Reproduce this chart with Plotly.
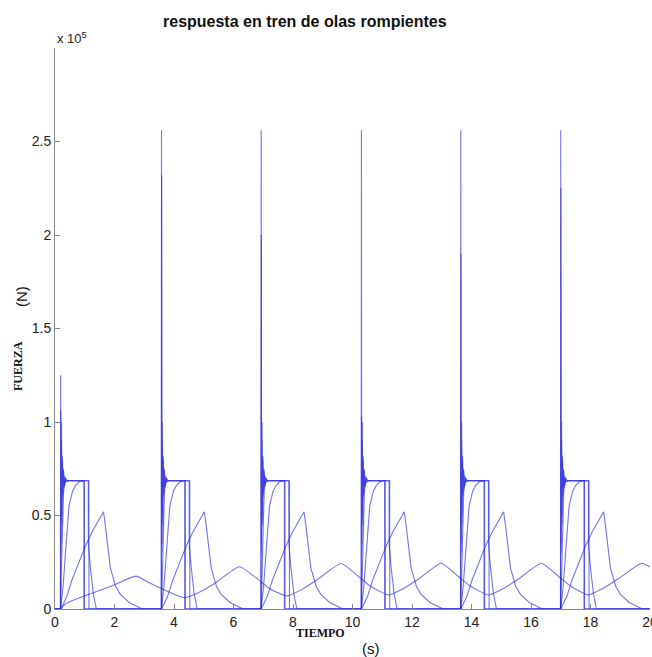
import plotly.graph_objects as go

# ---------------- data ----------------
time_ticks = [0, 2, 4, 6, 8, 10, 12, 14, 16, 18, 20]
force_ticks = [0, 0.5e5, 1.0e5, 1.5e5, 2.0e5, 2.5e5]
force_tick_text = ["0", "0.5", "1", "1.5", "2", "2.5"]

# onset time of each breaking-wave impact (s)
pulse_onsets = [0.19, 3.58, 6.93, 10.30, 13.64, 17.00]
# peak of the tallest impact spike, and of the second spike (x 1e5 N)
spike_peak = [1.25, 2.56, 2.56, 2.56, 2.56, 2.56]
spike_second = [1.06, 2.32, 2.00, 1.03, 1.90, 2.25]

# spike response 1 (time after onset, force x 1e5 N); index 1 = spike peak
a1_tau = [-0.01, 0.0, 0.012, 0.025, 0.04, 0.055, 0.07, 0.09, 0.11, 0.14, 0.18, 0.25, 0.95, 0.951]
a1_val = [0.0, 1.0, 0.35, 0.90, 0.50, 0.80, 0.60, 0.75, 0.65, 0.71, 0.68, 0.686, 0.686, 0.0]

# spike response 2; index 1 = second spike peak
a2_tau = [-0.005, 0.005, 0.015, 0.03, 0.045, 0.06, 0.08, 0.10, 0.13, 0.17, 0.22, 0.80, 0.801]
a2_val = [0.0, 1.0, 0.30, 1.00, 0.45, 0.82, 0.62, 0.74, 0.66, 0.70, 0.686, 0.686, 0.0]

# fast-rising saturated response
b_tau = [0.0, 0.03, 0.06, 0.10, 0.15, 0.20, 0.78, 0.781]
b_val = [0.0, 0.25, 0.50, 0.63, 0.68, 0.686, 0.686, 0.0]

# slower-rising saturated response
c_tau = [0.0, 0.08, 0.17, 0.28, 0.40, 0.50, 0.62, 0.75, 0.93, 0.931, 1.00, 1.10, 1.20]
c_val = [0.0, 0.12, 0.33, 0.55, 0.63, 0.66, 0.68, 0.686, 0.686, 0.35, 0.22, 0.08, 0.0]

# delayed peaked response (peak about 0.52e5)
d_tau = [0.0, 0.10, 0.20, 0.38, 0.60, 0.84, 1.05, 1.25, 1.44, 1.50, 1.57, 1.67, 1.85, 2.00, 2.30, 2.60, 2.75]
d_val = [0.0, 0.03, 0.065, 0.155, 0.24, 0.34, 0.41, 0.47, 0.52, 0.45, 0.35, 0.22, 0.12, 0.08, 0.035, 0.01, 0.0]

# slow, continuous response (x 1e5 N)
e_time = [0.0, 0.19, 0.30, 0.47, 1.26, 2.00, 2.72, 3.17, 3.70, 4.35, 4.85, 5.35, 6.20,
          6.77, 7.20, 7.80, 8.30, 8.80, 9.62, 10.19, 10.62, 11.22, 11.72, 12.22, 12.98,
          13.55, 13.98, 14.58, 15.08, 15.58, 16.35, 16.92, 17.35, 17.92, 18.42, 18.92,
          19.72, 20.0]
e_val = [0.0, 0.0, 0.02, 0.037, 0.085, 0.13, 0.176, 0.14, 0.10, 0.06, 0.09, 0.135, 0.226,
         0.165, 0.11, 0.07, 0.105, 0.155, 0.243, 0.175, 0.12, 0.075, 0.11, 0.16, 0.245,
         0.175, 0.12, 0.075, 0.11, 0.16, 0.245, 0.175, 0.12, 0.075, 0.11, 0.16,
         0.245, 0.225]

title_text = "respuesta en tren de olas rompientes"
scale = 1e5


def pulse_train(tau, val, peak_values=None):
    ts, vs = [0.0], [0.0]
    for k, t0 in enumerate(pulse_onsets):
        for i, (dt, v) in enumerate(zip(tau, val)):
            if peak_values is not None and i == 1:
                v = peak_values[k]
            ts.append(t0 + dt)
            vs.append(v * scale)
    ts.append(20.0)
    vs.append(0.0)
    return ts, vs


line_color = "rgba(30,30,225,0.62)"

fig = go.Figure()
fig.add_trace(go.Scatter(x=e_time, y=[v * scale for v in e_val], mode="lines",
                         line=dict(color=line_color, width=1.1, shape="spline", smoothing=0.5),
                         showlegend=False, hoverinfo="skip"))
for ts, vs in [pulse_train(d_tau, d_val),
               pulse_train(c_tau, c_val),
               pulse_train(b_tau, b_val),
               pulse_train(a2_tau, a2_val, spike_second),
               pulse_train(a1_tau, a1_val, spike_peak)]:
    fig.add_trace(go.Scatter(x=ts, y=vs, mode="lines",
                             line=dict(color=line_color, width=1.1),
                             showlegend=False, hoverinfo="skip"))

sans = "Liberation Sans, Arial, sans-serif"
serif = "Liberation Serif, Times New Roman, serif"
axis_font = dict(family=sans, size=14, color="#222")

fig.update_layout(
    width=652, height=657,
    margin=dict(l=55, r=2, t=48, b=48, autoexpand=False),
    paper_bgcolor="white", plot_bgcolor="white",
    xaxis=dict(range=[0, 20], tickvals=time_ticks, ticks="inside", ticklen=5,
               tickcolor="#888", showline=True, linecolor="#888", linewidth=1,
               showgrid=False, zeroline=False, mirror=False, tickfont=axis_font,
               automargin=False, ticklabeloverflow="allow"),
    yaxis=dict(range=[0, 3e5], tickvals=force_ticks, ticktext=force_tick_text,
               ticks="inside", ticklen=5, tickcolor="#888", showline=True,
               linecolor="#888", linewidth=1, showgrid=False, zeroline=False,
               mirror=False, tickfont=axis_font, automargin=False,
               ticklabeloverflow="allow"),
    annotations=[
        dict(text="<b>" + title_text + "</b>", xref="paper", yref="paper",
             x=(305 - 55) / 595, y=1 + (48 - 22) / 561, xanchor="center", yanchor="middle",
             showarrow=False, font=dict(family=sans, size=16, color="#111")),
        dict(text="x 10<sup>5</sup>", xref="paper", yref="paper", x=0.0, y=1 + 10 / 561,
             xanchor="left", yanchor="middle", showarrow=False,
             font=dict(family=sans, size=13, color="#222")),
        dict(text="<b>TIEMPO</b>", xref="paper", yref="paper", x=(320 - 55) / 595,
             y=-(633 - 609) / 561, xanchor="center", yanchor="middle", showarrow=False,
             font=dict(family=serif, size=12, color="#111")),
        dict(text="(s)", xref="paper", yref="paper", x=(371 - 55) / 595,
             y=-(648 - 609) / 561, xanchor="center", yanchor="middle", showarrow=False,
             font=dict(family=sans, size=15, color="#111")),
        dict(text="<b>FUERZA</b>", xref="paper", yref="paper", x=(18 - 55) / 595,
             y=(609 - 366) / 561, xanchor="center", yanchor="middle", showarrow=False,
             textangle=-90, font=dict(family=serif, size=12, color="#111")),
        dict(text="(N)", xref="paper", yref="paper", x=(21 - 55) / 595,
             y=(609 - 297) / 561, xanchor="center", yanchor="middle", showarrow=False,
             textangle=-90, font=dict(family=sans, size=15, color="#111")),
    ],
)

fig.write_html("out.html",
               config={"displayModeBar": False},
               post_script="document.body.style.margin='0px';"
                           "document.body.style.overflow='hidden';")
